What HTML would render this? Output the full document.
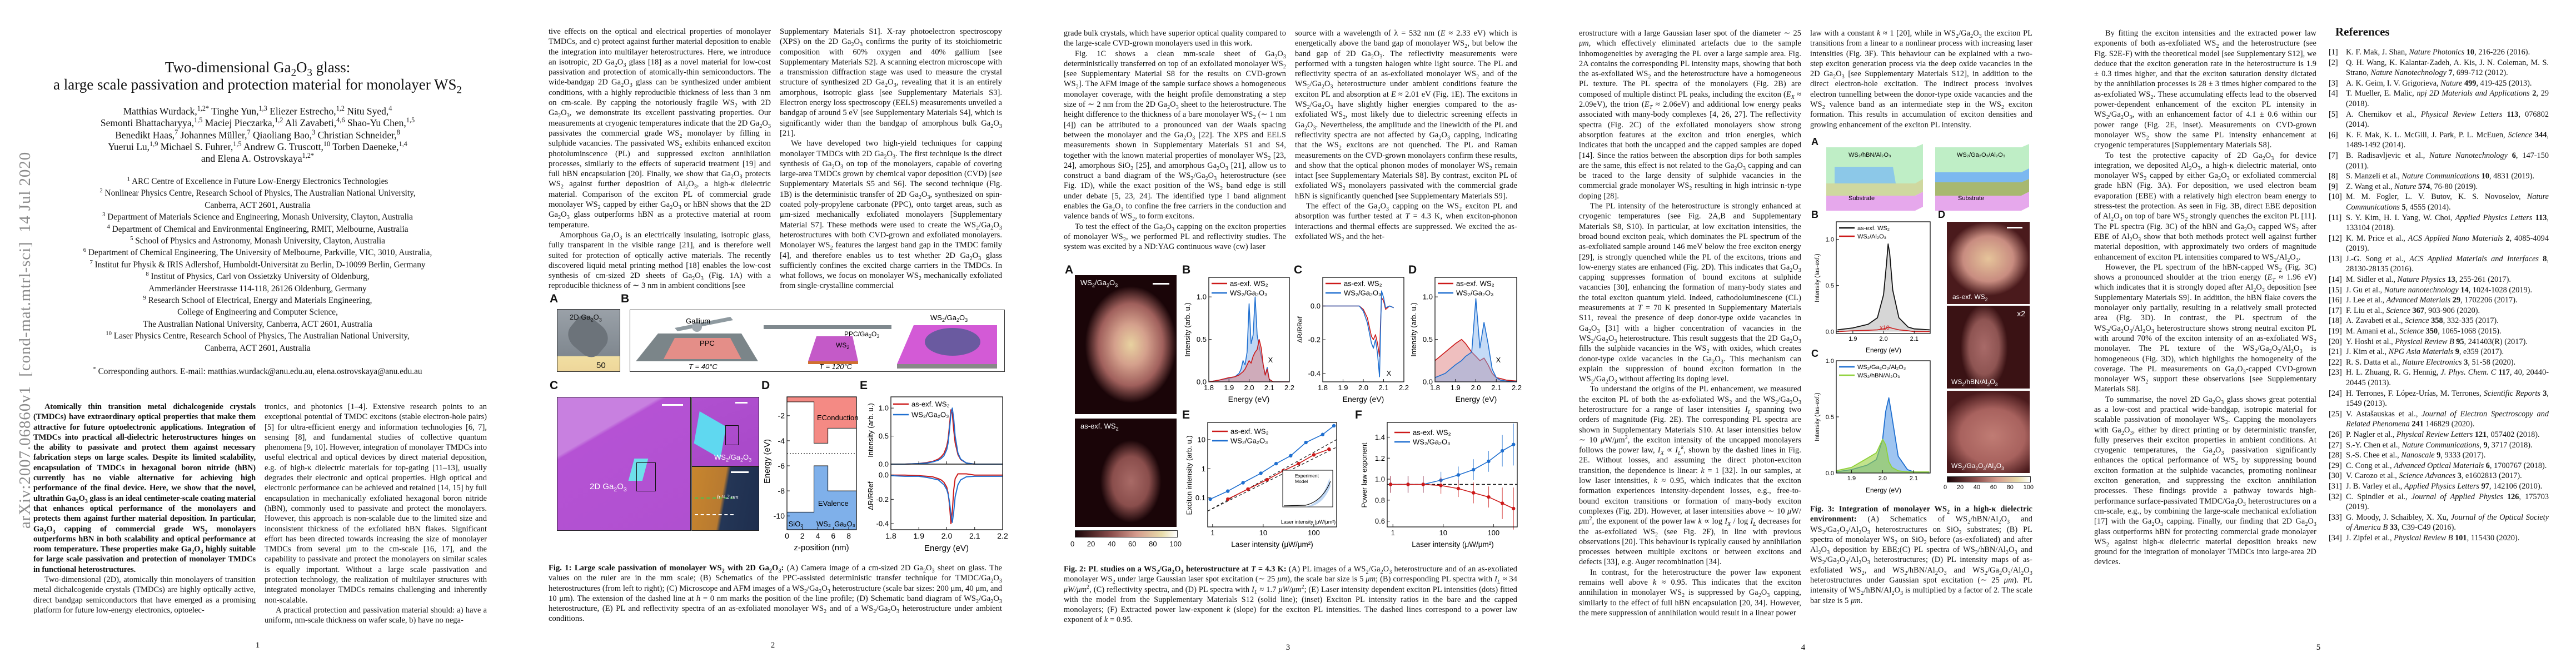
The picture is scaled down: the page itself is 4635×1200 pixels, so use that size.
<!DOCTYPE html>
<html><head><meta charset="utf-8">
<style>
html,body{margin:0;padding:0;background:#fff;}
body{width:4635px;height:1200px;position:relative;overflow:hidden;font-family:"Liberation Serif",serif;color:#111;}
.page{position:absolute;top:0;width:927px;height:1200px;overflow:hidden;background:#fff;}
.col{position:absolute;width:400px;font-size:14.6px;line-height:18.3px;text-align:justify;overflow:hidden;}
.cm{font-size:14.3px;letter-spacing:0.12px;}
.col p{margin:0;text-indent:20px;}
.col p.ni{text-indent:0;}
sub,sup{font-size:70%;line-height:0;}
.pnum{position:absolute;width:927px;text-align:center;font-size:15px;}
.center{position:absolute;left:0;width:927px;text-align:center;}
.lab{position:absolute;font-family:"Liberation Sans",sans-serif;font-weight:bold;font-size:21px;}
.cap{position:absolute;font-size:14.6px;line-height:18.3px;text-align:justify;}
.img{position:absolute;}
svg.ov{position:absolute;left:0;top:0;}
.refs{position:absolute;left:488px;top:85px;width:390px;font-size:14.3px;line-height:18.6px;}
.ref{position:relative;padding-left:25px;text-align:justify;}
.ref span.n{position:absolute;left:-6px;}
</style></head>
<body>

<!-- PAGE 1 -->
<div class="page" style="left:0">
  <div style="position:absolute;left:45px;top:612px;width:700px;margin-left:-350px;margin-top:-17px;transform:rotate(-90deg);text-align:center;font-size:29px;line-height:34px;color:#8a8a8a;letter-spacing:0.9px;white-space:nowrap">arXiv:2007.06860v1&nbsp; [cond-mat.mtrl-sci]&nbsp; 14 Jul 2020</div>
  <div class="center" style="top:106px;font-size:27px;line-height:31px">Two-dimensional Ga<sub>2</sub>O<sub>3</sub> glass:<br>a large scale passivation and protection material for monolayer WS<sub>2</sub></div>
  <div class="center" style="top:190px;font-size:17.5px;line-height:21.3px">
  Matthias Wurdack,<sup>1,2*</sup> Tinghe Yun,<sup>1,3</sup> Eliezer Estrecho,<sup>1,2</sup> Nitu Syed,<sup>4</sup><br>
  Semonti Bhattacharyya,<sup>1,5</sup> Maciej Pieczarka,<sup>1,2</sup> Ali Zavabeti,<sup>4,6</sup> Shao-Yu Chen,<sup>1,5</sup><br>
  Benedikt Haas,<sup>7</sup> Johannes Müller,<sup>7</sup> Qiaoliang Bao,<sup>3</sup> Christian Schneider,<sup>8</sup><br>
  Yuerui Lu,<sup>1,9</sup> Michael S. Fuhrer,<sup>1,5</sup> Andrew G. Truscott,<sup>10</sup> Torben Daeneke,<sup>1,4</sup><br>
  and Elena A. Ostrovskaya<sup>1,2*</sup></div>
  <div class="center" style="top:316px;font-size:15.3px;line-height:21.4px">
  <sup>1</sup> ARC Centre of Excellence in Future Low-Energy Electronics Technologies<br>
  <sup>2</sup> Nonlinear Physics Centre, Research School of Physics, The Australian National University,<br>
  Canberra, ACT 2601, Australia<br>
  <sup>3</sup> Department of Materials Science and Engineering, Monash University, Clayton, Australia<br>
  <sup>4</sup> Department of Chemical and Environmental Engineering, RMIT, Melbourne, Australia<br>
  <sup>5</sup> School of Physics and Astronomy, Monash University, Clayton, Australia<br>
  <sup>6</sup> Department of Chemical Engineering, The University of Melbourne, Parkville, VIC, 3010, Australia,<br>
  <sup>7</sup> Institut fur Physik &amp; IRIS Adlershof, Humboldt-Universität zu Berlin, D-10099 Berlin, Germany<br>
  <sup>8</sup> Institut of Physics, Carl von Ossietzky University of Oldenburg,<br>
  Ammerländer Heerstrasse 114-118, 26126 Oldenburg, Germany<br>
  <sup>9</sup> Research School of Electrical, Energy and Materials Engineering,<br>
  College of Engineering and Computer Science,<br>
  The Australian National University, Canberra, ACT 2601, Australia<br>
  <sup>10</sup> Laser Physics Centre, Research School of Physics, The Australian National University,<br>
  Canberra, ACT 2601, Australia</div>
  <div class="center" style="top:660px;font-size:15.3px"><sup>*</sup> Corresponding authors. E-mail: matthias.wurdack@anu.edu.au, elena.ostrovskaya@anu.edu.au</div>
  <div class="col" style="left:60px;top:723px;height:405px">
   <p style="font-weight:bold;letter-spacing:-0.15px">Atomically thin transition metal dichalcogenide crystals (TMDCs) have extraordinary optical properties that make them attractive for future optoelectronic applications. Integration of TMDCs into practical all-dielectric heterostructures hinges on the ability to passivate and protect them against necessary fabrication steps on large scales. Despite its limited scalability, encapsulation of TMDCs in hexagonal boron nitride (hBN) currently has no viable alternative for achieving high performance of the final device. Here, we show that the novel, ultrathin Ga<sub>2</sub>O<sub>3</sub> glass is an ideal centimeter-scale coating material that enhances optical performance of the monolayers and protects them against further material deposition. In particular, Ga<sub>2</sub>O<sub>3</sub> capping of commercial grade WS<sub>2</sub> monolayers outperforms hBN in both scalability and optical performance at room temperature. These properties make Ga<sub>2</sub>O<sub>3</sub> highly suitable for large scale passivation and protection of monolayer TMDCs in functional heterostructures.</p>
   <p>Two-dimensional (2D), atomically thin monolayers of transition metal dichalcogenide crystals (TMDCs) are highly optically active, direct bandgap semiconductors that have emerged as a promising platform for future low-energy electronics, optoelec-</p>
  </div>
  <div class="col" style="left:476px;top:723px;height:405px">
   <p class="ni">tronics, and photonics [1–4]. Extensive research points to an exceptional potential of TMDC excitons (stable electron-hole pairs) [5] for ultra-efficient energy and information technologies [6, 7], sensing [8], and fundamental studies of collective quantum phenomena [9, 10]. However, integration of monolayer TMDCs into useful electrical and optical devices by direct material deposition, e.g. of high-κ dielectric materials for top-gating [11–13], usually degrades their electronic and optical properties. High optical and electronic performance can be achieved and retained [14, 15] by full encapsulation in mechanically exfoliated hexagonal boron nitride (hBN), commonly used to passivate and protect the monolayers. However, this approach is non-scalable due to the limited size and inconsistent thickness of the exfoliated hBN flakes. Significant effort has been directed towards increasing the size of monolayer TMDCs from several μm to the cm-scale [16, 17], and the capability to passivate and protect the monolayers on similar scales is equally important. Without a large scale passivation and protection technology, the realization of multilayer structures with integrated monolayer TMDCs remains challenging and inherently non-scalable.</p>
   <p>A practical protection and passivation material should: a) have a uniform, nm-scale thickness on wafer scale, b) have no nega-</p>
  </div>
  <div class="pnum" style="top:1153px">1</div>
</div>

<!-- PAGE 2 -->
<div class="page" style="left:927px">
  <div class="col" style="left:60px;top:48px;height:476px">
   <p class="ni">tive effects on the optical and electrical properties of monolayer TMDCs, and c) protect against further material deposition to enable the integration into multilayer heterostructures. Here, we introduce an isotropic, 2D Ga<sub>2</sub>O<sub>3</sub> glass [18] as a novel material for low-cost passivation and protection of atomically-thin semiconductors. The wide-bandgap 2D Ga<sub>2</sub>O<sub>3</sub> glass can be synthesized under ambient conditions, with a highly reproducible thickness of less than 3 nm on cm-scale. By capping the notoriously fragile WS<sub>2</sub> with 2D Ga<sub>2</sub>O<sub>3</sub>, we demonstrate its excellent passivating properties. Our measurements at cryogenic temperatures indicate that the 2D Ga<sub>2</sub>O<sub>3</sub> passivates the commercial grade WS<sub>2</sub> monolayer by filling in sulphide vacancies. The passivated WS<sub>2</sub> exhibits enhanced exciton photoluminscence (PL) and suppressed exciton annihilation processes, similarly to the effects of superacid treatment [19] and full hBN encapsulation [20]. Finally, we show that Ga<sub>2</sub>O<sub>3</sub> protects WS<sub>2</sub> against further deposition of Al<sub>2</sub>O<sub>3</sub>, a high-κ dielectric material. Comparison of the exciton PL of commercial grade monolayer WS<sub>2</sub> capped by either Ga<sub>2</sub>O<sub>3</sub> or hBN shows that the 2D Ga<sub>2</sub>O<sub>3</sub> glass outperforms hBN as a protective material at room temperature.</p>
   <p>Amorphous Ga<sub>2</sub>O<sub>3</sub> is an electrically insulating, isotropic glass, fully transparent in the visible range [21], and is therefore well suited for protection of optically active materials. The recently discovered liquid metal printing method [18] enables the low-cost synthesis of cm-sized 2D sheets of Ga<sub>2</sub>O<sub>3</sub> (Fig. 1A) with a reproducible thickness of ∼ 3 nm in ambient conditions [see</p>
  </div>
  <div class="col" style="left:476px;top:48px;height:476px">
   <p class="ni">Supplementary Materials S1]. X-ray photoelectron spectroscopy (XPS) on the 2D Ga<sub>2</sub>O<sub>3</sub> confirms the purity of its stoichiometric composition with 60% oxygen and 40% gallium [see Supplementary Materials S2]. A scanning electron microscope with a transmission diffraction stage was used to measure the crystal structure of synthesized 2D Ga<sub>2</sub>O<sub>3</sub>, revealing that it is an entirely amorphous, isotropic glass [see Supplementary Materials S3]. Electron energy loss spectroscopy (EELS) measurements unveiled a bandgap of around 5 eV [see Supplementary Materials S4], which is significantly wider than the bandgap of amorphous bulk Ga<sub>2</sub>O<sub>3</sub> [21].</p>
   <p>We have developed two high-yield techniques for capping monolayer TMDCs with 2D Ga<sub>2</sub>O<sub>3</sub>. The first technique is the direct synthesis of Ga<sub>2</sub>O<sub>3</sub> on top of the monolayers, capable of covering large-area TMDCs grown by chemical vapor deposition (CVD) [see Supplementary Materials S5 and S6]. The second technique (Fig. 1B) is the deterministic transfer of 2D Ga<sub>2</sub>O<sub>3</sub>, synthesized on spin-coated poly-propylene carbonate (PPC), onto target areas, such as μm-sized mechanically exfoliated monolayers [Supplementary Material S7]. These methods were used to create the WS<sub>2</sub>/Ga<sub>2</sub>O<sub>3</sub> heterostructures with both CVD-grown and exfoliated monolayers. Monolayer WS<sub>2</sub> features the largest band gap in the TMDC family [4], and therefore enables us to test whether 2D Ga<sub>2</sub>O<sub>3</sub> glass sufficiently confines the excited charge carriers in the TMDCs. In what follows, we focus on monolayer WS<sub>2</sub> mechanically exfoliated from single-crystalline commercial</p>
  </div>
  <div class="lab" style="left:62px;top:526px">A</div>
  <div class="lab" style="left:190px;top:526px">B</div>
  <div class="img" style="left:75px;top:556px;width:112px;height:111px;background:linear-gradient(#9aa1a8,#7f878f 75%,#f1dfa2 76%,#eed69a);border:1px solid #333">
    <div style="position:absolute;left:20px;top:18px;width:70px;height:60px;background:#6c737a;border-radius:30% 40% 30% 40%;transform:rotate(40deg)"></div>
    <div style="position:absolute;left:22px;top:6px;font:13px 'Liberation Sans',sans-serif">2D Ga<sub>2</sub>O<sub>3</sub></div>
    <div style="position:absolute;left:70px;top:92px;font:15px 'Liberation Sans',sans-serif">50</div>
  </div>
  <div class="img" style="left:206px;top:557px;width:673px;height:110px;border:1.5px solid #333;background:#fff">
    <svg width="673" height="110">
      <polygon points="10,92 50,42 200,42 230,92" fill="#7b8589"/>
      <polygon points="60,88 80,50 180,50 200,88" fill="#e48e88"/>
      <polygon points="80,32 180,12 185,18 85,38" fill="#8f9aa0"/>
      <circle cx="120" cy="30" r="9" fill="#a0a8ae"/>
      <polygon points="240,27 470,27 470,34 240,34" fill="#7f898e"/>
      <polygon points="320,92 335,47 400,47 410,92" fill="#c45ac8"/>
      <polygon points="320,92 410,92 410,97 320,97" fill="#d07030"/>
      <polygon points="480,97 510,27 660,27 660,97" fill="#d35ad6"/>
      <ellipse cx="580" cy="57" rx="50" ry="25" fill="#6a5aa0"/>
      <polygon points="480,97 660,97 660,105 480,105" fill="#888"/>
      <text x="100" y="24" font-family="Liberation Sans" font-size="13">Gallium</text>
      <text x="125" y="64" font-family="Liberation Sans" font-size="13">PPC</text>
      <text x="105" y="106" font-family="Liberation Sans" font-size="13" font-style="italic">T = 40°C</text>
      <text x="385" y="47" font-family="Liberation Sans" font-size="12">PPC/Ga<tspan font-size="9" dy="3">2</tspan><tspan dy="-3">O</tspan><tspan font-size="9" dy="3">3</tspan></text>
      <text x="370" y="67" font-family="Liberation Sans" font-size="12">WS<tspan font-size="9" dy="3">2</tspan></text>
      <text x="340" y="106" font-family="Liberation Sans" font-size="13" font-style="italic">T = 120°C</text>
      <text x="540" y="18" font-family="Liberation Sans" font-size="13">WS<tspan font-size="9" dy="3">2</tspan><tspan dy="-3">/Ga</tspan><tspan font-size="9" dy="3">2</tspan><tspan dy="-3">O</tspan><tspan font-size="9" dy="3">3</tspan></text>
    </svg>
  </div>
  <div class="lab" style="left:62px;top:682px">C</div>
  <div class="lab" style="left:443px;top:682px">D</div>
  <div class="lab" style="left:620px;top:682px">E</div>
  <div class="img" style="left:75px;top:714px;width:239px;height:239px;border:1.5px solid #222;background:linear-gradient(150deg,#c880e0 0%,#c880e0 28%,#b552d4 30%,#b050d0 100%)">
    <div style="position:absolute;left:133px;top:110px;width:25px;height:40px;background:#6ee0ea;transform:skew(-15deg)"></div>
    <div style="position:absolute;left:142px;top:117px;width:33px;height:50px;border:1.5px solid #111"></div>
    <div style="position:absolute;left:188px;top:12px;width:38px;height:3px;background:#fff"></div>
    <div style="position:absolute;left:58px;top:152px;color:#fff;font:15px 'Liberation Sans',sans-serif">2D Ga<sub>2</sub>O<sub>3</sub></div>
  </div>
  <div class="img" style="left:317px;top:714px;width:120px;height:123px;border:1.5px solid #222;background:linear-gradient(160deg,#b050d0 0%,#a848c8 100%)">
    <div style="position:absolute;left:5px;top:40px;width:55px;height:55px;background:#5fd8f0;transform:rotate(30deg) skew(20deg)"></div>
    <div style="position:absolute;left:60px;top:50px;width:22px;height:34px;border:1.5px solid #111"></div>
    <div style="position:absolute;left:78px;top:8px;width:22px;height:3px;background:#fff"></div>
    <div style="position:absolute;left:40px;top:100px;color:#fff;font:13px 'Liberation Sans',sans-serif">WS<sub>2</sub>/Ga<sub>2</sub>O<sub>3</sub></div>
  </div>
  <div class="img" style="left:317px;top:839px;width:120px;height:114px;border:1.5px solid #222;background:linear-gradient(100deg,#c8862e 0%,#b87a30 45%,#243656 50%,#1e2e4e 100%)">
    <div style="position:absolute;left:5px;top:55px;width:70px;height:28px;border-top:2px dashed #4ec24e;border-bottom:2px dashed #fff"></div>
    <div style="position:absolute;left:70px;top:8px;width:32px;height:3px;background:#fff"></div>
    <div style="position:absolute;left:45px;top:48px;color:#fff;font:italic 11px 'Liberation Serif',serif">h ≈ 2 nm</div>
  </div>
  <svg class="ov" id="svg-p2" width="927" height="1200"></svg>
  <div class="cap" style="left:60px;top:1013px;width:816px"><b>Fig. 1: Large scale passivation of monolayer WS<sub>2</sub> with 2D Ga<sub>2</sub>O<sub>3</sub>:</b> (A) Camera image of a cm-sized 2D Ga<sub>2</sub>O<sub>3</sub> sheet on glass. The values on the ruler are in the mm scale; (B) Schematics of the PPC-assisted deterministic transfer technique for TMDC/Ga<sub>2</sub>O<sub>3</sub> heterostructures (from left to right); (C) Microscope and AFM images of a WS<sub>2</sub>/Ga<sub>2</sub>O<sub>3</sub> heterostructure (scale bar sizes: 200 μm, 40 μm, and 10 μm). The extension of the dashed line at <i>h</i> = 0 nm marks the position of the line profile; (D) Schematic band diagram of WS<sub>2</sub>/Ga<sub>2</sub>O<sub>3</sub> heterostructure, (E) PL and reflectivity spectra of an as-exfoliated monolayer WS<sub>2</sub> and of a WS<sub>2</sub>/Ga<sub>2</sub>O<sub>3</sub> heterostructure under ambient conditions.</div>
  <div class="pnum" style="top:1153px">2</div>
</div>

<!-- PAGE 3 -->
<div class="page" style="left:1854px">
  <div class="col cm" style="left:60px;top:51px;height:403px">
   <p class="ni">grade bulk crystals, which have superior optical quality compared to the large-scale CVD-grown monolayers used in this work.</p>
   <p>Fig. 1C shows a clean mm-scale sheet of Ga<sub>2</sub>O<sub>3</sub> deterministically transferred on top of an exfoliated monolayer WS<sub>2</sub> [see Supplementary Material S8 for the results on CVD-grown WS<sub>2</sub>]. The AFM image of the sample surface shows a homogeneous monolayer coverage, with the height profile demonstrating a step size of ∼ 2 nm from the 2D Ga<sub>2</sub>O<sub>3</sub> sheet to the heterostructure. The height difference to the thickness of a bare monolayer WS<sub>2</sub> (∼ 1 nm [4]) can be attributed to a pronounced van der Waals spacing between the monolayer and the Ga<sub>2</sub>O<sub>3</sub> [22]. The XPS and EELS measurements shown in Supplementary Materials S1 and S4, together with the known material properties of monolayer WS<sub>2</sub> [23, 24], amorphous SiO<sub>2</sub> [25], and amorphous Ga<sub>2</sub>O<sub>3</sub> [21], allow us to construct a band diagram of the WS<sub>2</sub>/Ga<sub>2</sub>O<sub>3</sub> heterostructure (see Fig. 1D), while the exact position of the WS<sub>2</sub> band edge is still under debate [5, 23, 24]. The identified type I band alignment enables the Ga<sub>2</sub>O<sub>3</sub> to confine the free carriers in the conduction and valence bands of WS<sub>2</sub>, to form excitons.</p>
   <p>To test the effect of the Ga<sub>2</sub>O<sub>3</sub> capping on the exciton properties of monolayer WS<sub>2</sub>, we performed PL and reflectivity studies. The system was excited by a ND:YAG continuous wave (cw) laser</p>
  </div>
  <div class="col cm" style="left:476px;top:51px;height:403px">
   <p class="ni">source with a wavelength of λ = 532 nm (<i>E</i> ≈ 2.33 eV) which is energetically above the band gap of monolayer WS<sub>2</sub>, but below the band gap of 2D Ga<sub>2</sub>O<sub>3</sub>. The reflectivity measurements were performed with a tungsten halogen white light source. The PL and reflectivity spectra of an as-exfoliated monolayer WS<sub>2</sub> and of the WS<sub>2</sub>/Ga<sub>2</sub>O<sub>3</sub> heterostructure under ambient conditions feature the exciton PL and absorption at <i>E</i> ≈ 2.01 eV (Fig. 1E). The excitons in WS<sub>2</sub>/Ga<sub>2</sub>O<sub>3</sub> have slightly higher energies compared to the as-exfoliated WS<sub>2</sub>, most likely due to dielectric screening effects in Ga<sub>2</sub>O<sub>3</sub>. Nevertheless, the amplitude and the linewidth of the PL and reflectivity spectra are not affected by Ga<sub>2</sub>O<sub>3</sub> capping, indicating that the WS<sub>2</sub> excitons are not quenched. The PL and Raman measurements on the CVD-grown monolayers confirm these results, and show that the optical phonon modes of monolayer WS<sub>2</sub> remain intact [see Supplementary Materials S8]. By contrast, exciton PL of exfoliated WS<sub>2</sub> monolayers passivated with the commercial grade hBN is significantly quenched [see Supplementary Materials S9].</p>
   <p>The effect of the Ga<sub>2</sub>O<sub>3</sub> capping on the WS<sub>2</sub> exciton PL and absorption was further tested at <i>T</i> = 4.3 K, when exciton-phonon interactions and thermal effects are suppressed. We excited the as-exfoliated WS<sub>2</sub> and the het-</p>
  </div>
  <div class="lab" style="left:62px;top:474px">A</div>
  <div class="lab" style="left:273px;top:474px">B</div>
  <div class="lab" style="left:474px;top:474px">C</div>
  <div class="lab" style="left:680px;top:474px">D</div>
  <div class="lab" style="left:273px;top:735px">E</div>
  <div class="lab" style="left:584px;top:735px">F</div>
  <div class="img" style="left:80px;top:495px;width:183px;height:250px;background:radial-gradient(ellipse 45% 42% at 55% 50%,#e8d2a0 0%,#d4a08c 35%,#a0605c 70%,#1a0508 100%);">
    <div style="position:absolute;left:10px;top:6px;color:#fff;font:13px 'Liberation Sans',sans-serif">WS<sub>2</sub>/Ga<sub>2</sub>O<sub>3</sub></div>
    <div style="position:absolute;left:140px;top:14px;width:30px;height:3px;background:#fff"></div>
  </div>
  <div class="img" style="left:80px;top:753px;width:183px;height:195px;background:radial-gradient(ellipse 30% 38% at 55% 58%,#a86a66 0%,#8a4e4c 60%,#1a0508 100%);">
    <div style="position:absolute;left:10px;top:6px;color:#fff;font:13px 'Liberation Sans',sans-serif">as-exf. WS<sub>2</sub></div>
  </div>
  <div class="img" style="left:80px;top:954px;width:183px;height:11px;border:1px solid #333;background:linear-gradient(90deg,#1a0508,#8a4e4c 35%,#d49a8c 60%,#e8dcaa 85%,#fff)"></div>
  <div style="position:absolute;left:72px;top:971px;width:200px;font:13px 'Liberation Sans',sans-serif;display:flex;justify-content:space-between"><span>0</span><span>20</span><span>40</span><span>60</span><span>80</span><span>100</span></div>
  <svg class="ov" id="svg-p3" width="927" height="1200"></svg>
  <div class="cap cm" style="left:60px;top:1015px;width:816px;font-size:14.3px"><b>Fig. 2: PL studies on a WS<sub>2</sub>/Ga<sub>2</sub>O<sub>3</sub> heterostructure at <i>T</i> = 4.3 K:</b> (A) PL images of a WS<sub>2</sub>/Ga<sub>2</sub>O<sub>3</sub> heterostructure and of an as-exoliated monolayer WS<sub>2</sub> under large Gaussian laser spot excitation (∼ 25 <i>μm</i>), the scale bar size is 5 <i>μm</i>; (B) corresponding PL spectra with <i>I<sub>L</sub></i> ≈ 34 <i>μW/μm</i><sup>2</sup>, (C) reflectivity spectra, and (D) PL spectra with <i>I<sub>L</sub></i> ≈ 1.7 <i>μW/μm</i><sup>2</sup>; (E) Laser intensity dependent exciton PL intensities (dots) fitted with the model from the Supplementary Materials S12 (solid line); (inset) Exciton PL intensity ratios in the bare and the capped monolayers; (F) Extracted power law-exponent <i>k</i> (slope) for the exciton PL intensities. The dashed lines correspond to a power law exponent of <i>k</i> = 0.95.</div>
  <div class="pnum" style="top:1157px">3</div>
</div>

<!-- PAGE 4 -->
<div class="page" style="left:2781px">
  <div class="col cm" style="left:60px;top:51px;height:1062px">
   <p class="ni">erostructure with a large Gaussian laser spot of the diameter ∼ 25 <i>μm</i>, which effectively eliminated artefacts due to the sample inhomogeneities by averaging the PL over a large sample area. Fig. 2A contains the corresponding PL intensity maps, showing that both the as-exfoliated WS<sub>2</sub> and the heterostructure have a homogeneous PL texture. The PL spectra of the monolayers (Fig. 2B) are composed of multiple distinct PL peaks, including the exciton (<i>E<sub>X</sub></i> ≈ 2.09eV), the trion (<i>E<sub>T</sub></i> ≈ 2.06eV) and additional low energy peaks associated with many-body complexes [4, 26, 27]. The reflectivity spectra (Fig. 2C) of the exfoliated monolayers show strong absorption features at the exciton and trion energies, which indicates that both the uncapped and the capped samples are doped [14]. Since the ratios between the absorption dips for both samples are the same, this effect is not related to the Ga<sub>2</sub>O<sub>3</sub> capping and can be traced to the large density of sulphide vacancies in the commercial grade monolayer WS<sub>2</sub> resulting in high intrinsic n-type doping [28].</p>
   <p>The PL intensity of the heterostructure is strongly enhanced at cryogenic temperatures (see Fig. 2A,B and Supplementary Materials S8, S10). In particular, at low excitation intensities, the broad bound exciton peak, which dominates the PL spectrum of the as-exfoliated sample around 146 meV below the free exciton energy [29], is strongly quenched while the PL of the excitons, trions and low-energy states are enhanced (Fig. 2D). This indicates that Ga<sub>2</sub>O<sub>3</sub> capping suppresses formation of bound excitons at sulphide vacancies [30], enhancing the formation of many-body states and the total exciton quantum yield. Indeed, cathodoluminescene (CL) measurements at <i>T</i> = 70 K presented in Supplementary Materials S11, reveal the presence of deep donor-type oxide vacancies in Ga<sub>2</sub>O<sub>3</sub> [31] with a higher concentration of vacancies in the WS<sub>2</sub>/Ga<sub>2</sub>O<sub>3</sub> heterostructure. This result suggests that the 2D Ga<sub>2</sub>O<sub>3</sub> fills the sulphide vacancies in the WS<sub>2</sub> with oxides, which creates donor-type oxide vacancies in the Ga<sub>2</sub>O<sub>3</sub>. This mechanism can explain the suppression of bound exciton formation in the WS<sub>2</sub>/Ga<sub>2</sub>O<sub>3</sub> without affecting its doping level.</p>
   <p>To understand the origins of the PL enhancement, we measured the exciton PL of both the as-exfoliated WS<sub>2</sub> and the WS<sub>2</sub>/Ga<sub>2</sub>O<sub>3</sub> heterostructure for a range of laser intensities <i>I<sub>L</sub></i> spanning two orders of magnitude (Fig. 2E). The corresponding PL spectra are shown in Supplementary Materials S10. At laser intensities below ∼ 10 <i>μ</i>W/<i>μ</i>m<sup>2</sup>, the exciton intensity of the uncapped monolayers follows the power law, <i>I<sub>X</sub></i> ∝ <i>I<sub>L</sub><sup>k</sup></i>, shown by the dashed lines in Fig. 2E. Without losses, and assuming the direct photon-exciton transition, the dependence is linear: <i>k</i> = 1 [32]. In our samples, at low laser intensities, <i>k</i> ≈ 0.95, which indicates that the exciton formation experiences intensity-dependent losses, e.g., free-to-bound exciton transitions or formation of many-body exciton complexes (Fig. 2D). However, at laser intensities above ∼ 10 <i>μ</i>W/<i>μ</i>m<sup>2</sup>, the exponent of the power law <i>k</i> ∝ log <i>I<sub>X</sub></i> / log <i>I<sub>L</sub></i> decreases for the as-exfoliated WS<sub>2</sub> (see Fig. 2F), in line with previous observations [20]. This behaviour is typically caused by annihilation processes between multiple excitons or between excitons and defects [33], e.g. Auger recombination [34].</p>
   <p>In contrast, for the heterostructure the power law exponent remains well above <i>k</i> ≈ 0.95. This indicates that the exciton annihilation in monolayer WS<sub>2</sub> is suppressed by Ga<sub>2</sub>O<sub>3</sub> capping, similarly to the effect of full hBN encapsulation [20, 34]. However, the mere suppression of annihilation would result in a linear power</p>
  </div>
  <div class="col cm" style="left:476px;top:51px;height:185px">
   <p class="ni">law with a constant <i>k</i> ≈ 1 [20], while in WS<sub>2</sub>/Ga<sub>2</sub>O<sub>3</sub> the exciton PL transitions from a linear to a nonlinear process with increasing laser intensities (Fig. 3F). This behaviour can be explained with a two-step exciton generation process via the deep oxide vacancies in the 2D Ga<sub>2</sub>O<sub>3</sub> [see Supplementary Materials S12], in addition to the direct electron-hole excitation. The indirect process involves electron tunnelling between the donor-type oxide vacancies and the WS<sub>2</sub> valence band as an intermediate step in the WS<sub>2</sub> exciton formation. This results in accumulation of exciton densities and growing enhancement of the exciton PL intensity.</p>
  </div>
  <div class="lab" style="left:478px;top:245px;font-size:18px">A</div>
  <div class="lab" style="left:478px;top:376px;font-size:18px">B</div>
  <div class="lab" style="left:478px;top:626px;font-size:18px">C</div>
  <div class="lab" style="left:706px;top:376px;font-size:18px">D</div>
  <svg class="ov" width="927" height="1200" style="pointer-events:none">
    <g>
      <polygon points="505,265 665,265 679,259 679,345 665,352 505,352" fill="#b8ecc0" opacity="0.9"/>
      <polygon points="520,300 625,300 630,330 520,330" fill="#8cc8e8"/>
      <polygon points="505,330 665,330 679,322 679,345 665,352 505,352" fill="#cfd8a0"/>
      <polygon points="505,352 665,352 679,345 679,372 665,379 505,379" fill="#e6a8ec"/>
      <text x="545" y="282" font-family="Liberation Sans" font-size="11">WS₂/hBN/Al₂O₃</text>
      <text x="545" y="360" font-family="Liberation Sans" font-size="11">Substrate</text>
    </g>
    <g>
      <polygon points="701,265 856,265 870,259 870,345 856,352 701,352" fill="#b8ecc0" opacity="0.9"/>
      <polygon points="701,310 856,310 870,303 870,322 856,328 701,328" fill="#7cb8f0"/>
      <polygon points="701,328 856,328 870,322 870,345 856,352 701,352" fill="#a8b870"/>
      <polygon points="701,352 856,352 870,345 870,372 856,379 701,379" fill="#e6a8ec"/>
      <text x="740" y="282" font-family="Liberation Sans" font-size="11">WS₂/Ga₂O₃/Al₂O₃</text>
      <text x="742" y="360" font-family="Liberation Sans" font-size="11">Substrate</text>
    </g>
  </svg>
  <div class="img" style="left:722px;top:399px;width:149px;height:148px;background:radial-gradient(ellipse 55% 50% at 50% 45%,#e6c49a 0%,#c88c80 55%,#4a1a1c 90%)">
    <div style="position:absolute;left:108px;top:9px;width:28px;height:3px;background:#fff"></div>
    <div style="position:absolute;left:10px;top:128px;color:#fff;font:12px 'Liberation Sans',sans-serif">as-exf. WS<sub>2</sub></div>
  </div>
  <div class="img" style="left:722px;top:550px;width:149px;height:149px;background:radial-gradient(ellipse 30% 55% at 45% 50%,#a86a68 0%,#8e5452 60%,#3a1214 95%)">
    <div style="position:absolute;right:8px;top:6px;color:#fff;font:14px 'Liberation Sans',sans-serif">x2</div>
    <div style="position:absolute;left:8px;top:130px;color:#fff;font:12px 'Liberation Sans',sans-serif">WS<sub>2</sub>/hBN/Al<sub>2</sub>O<sub>3</sub></div>
  </div>
  <div class="img" style="left:722px;top:703px;width:149px;height:148px;background:radial-gradient(ellipse 65% 55% at 55% 55%,#c07c74 0%,#a8625e 60%,#4a1a1c 100%)">
    <div style="position:absolute;left:8px;top:128px;color:#fff;font:12px 'Liberation Sans',sans-serif">WS<sub>2</sub>/Ga<sub>2</sub>O<sub>3</sub>/Al<sub>2</sub>O<sub>3</sub></div>
  </div>
  <div class="img" style="left:722px;top:857px;width:149px;height:9px;border:1px solid #333;background:linear-gradient(90deg,#1a0508,#8a4e4c 35%,#d49a8c 60%,#e8dcaa 85%,#fff)"></div>
  <div style="position:absolute;left:716px;top:871px;width:162px;font:11px 'Liberation Sans',sans-serif;display:flex;justify-content:space-between"><span>0</span><span>20</span><span>40</span><span>60</span><span>80</span><span>100</span></div>
  <svg class="ov" id="svg-p4" width="927" height="1200"></svg>
  <div class="cap cm" style="left:476px;top:907px;width:400px;font-size:14.3px;line-height:18.3px"><b>Fig. 3: Integration of monolayer WS<sub>2</sub> in a high-κ dielectric environment:</b> (A) Schematics of WS<sub>2</sub>/hBN/Al<sub>2</sub>O<sub>3</sub> and WS<sub>2</sub>/Ga<sub>2</sub>O<sub>3</sub>/Al<sub>2</sub>O<sub>3</sub> heterostructures on SiO<sub>2</sub> substrates; (B) PL spectra of monolayer WS<sub>2</sub> on SiO<sub>2</sub> before (as-exfoliated) and after Al<sub>2</sub>O<sub>3</sub> deposition by EBE;(C) PL spectra of WS<sub>2</sub>/hBN/Al<sub>2</sub>O<sub>3</sub> and WS<sub>2</sub>/Ga<sub>2</sub>O<sub>3</sub>/Al<sub>2</sub>O<sub>3</sub> heterostructures; (D) PL intensity maps of as-exfoliated WS<sub>2</sub>, and WS<sub>2</sub>/hBN/Al<sub>2</sub>O<sub>3</sub> and WS<sub>2</sub>/Ga<sub>2</sub>O<sub>3</sub>/Al<sub>2</sub>O<sub>3</sub> heterostructures under Gaussian spot excitation (∼ 25 <i>μm</i>). PL intensity of WS<sub>2</sub>/hBN/Al<sub>2</sub>O<sub>3</sub> is multiplied by a factor of 2. The scale bar size is 5 <i>μm</i>.</div>
  <div class="pnum" style="top:1157px">4</div>
</div>

<!-- PAGE 5 -->
<div class="page" style="left:3708px">
  <div class="col cm" style="left:60px;top:51px;height:990px">
   <p>By fitting the exciton intensities and the extracted power law exponents of both as-exfoliated WS<sub>2</sub> and the heterostructure (see Fig. S2E-F) with the theoretical model [see Supplementary S12], we deduce that the exciton generation rate in the heterostructure is 1.9 ± 0.3 times higher, and that the exciton saturation density dictated by the annihilation processes is 28 ± 3 times higher compared to the as-exfoliated WS<sub>2</sub>. These accumulating effects lead to the observed power-dependent enhancement of the exciton PL intensity in WS<sub>2</sub>/Ga<sub>2</sub>O<sub>3</sub>, with an enhancement factor of 4.1 ± 0.6 within our power range (Fig. 2E, inset). Measurements on CVD-grown monolayer WS<sub>2</sub> show the same PL intensity enhancement at cryogenic temperatures [Supplementary Materials S8].</p>
   <p>To test the protective capacity of 2D Ga<sub>2</sub>O<sub>3</sub> for device integration, we deposited Al<sub>2</sub>O<sub>3</sub>, a high-κ dielectric material, onto monolayer WS<sub>2</sub> capped by either Ga<sub>2</sub>O<sub>3</sub> or exfoliated commercial grade hBN (Fig. 3A). For deposition, we used electron beam evaporation (EBE) with a relatively high electron beam energy to stress-test the protection. As seen in Fig. 3B, direct EBE deposition of Al<sub>2</sub>O<sub>3</sub> on top of bare WS<sub>2</sub> strongly quenches the exciton PL [11]. The PL spectra (Fig. 3C) of the hBN and Ga<sub>2</sub>O<sub>3</sub> capped WS<sub>2</sub> after EBE of Al<sub>2</sub>O<sub>3</sub> show that both methods protect well against further material deposition, with approximately two orders of magnitude enhancement of exciton PL intensities compared to WS<sub>2</sub>/Al<sub>2</sub>O<sub>3</sub>.</p>
   <p>However, the PL spectrum of the hBN-capped WS<sub>2</sub> (Fig. 3C) shows a pronounced shoulder at the trion energy (<i>E<sub>T</sub></i> ≈ 1.96 eV) which indicates that it is strongly doped after Al<sub>2</sub>O<sub>3</sub> deposition [see Supplementary Materials S9]. In addition, the hBN flake covers the monolayer only partially, resulting in a relatively small protected area (Fig. 3D). In contrast, the PL spectrum of the WS<sub>2</sub>/Ga<sub>2</sub>O<sub>3</sub>/Al<sub>2</sub>O<sub>3</sub> heterostructure shows strong neutral exciton PL with around 70% of the exciton intensity of an as-exfoliated WS<sub>2</sub> monolayer. The PL texture of the WS<sub>2</sub>/Ga<sub>2</sub>O<sub>3</sub>/Al<sub>2</sub>O<sub>3</sub> is homogeneous (Fig. 3D), which highlights the homogeneity of the coverage. The PL measurements on Ga<sub>2</sub>O<sub>3</sub>-capped CVD-grown monolayer WS<sub>2</sub> support these observations [see Supplementary Materials S8].</p>
   <p>To summarise, the novel 2D Ga<sub>2</sub>O<sub>3</sub> glass shows great potential as a low-cost and practical wide-bandgap, isotropic material for scalable passivation of monolayer WS<sub>2</sub>. Capping the monolayers with Ga<sub>2</sub>O<sub>3</sub>, either by direct printing or by deterministic transfer, fully preserves their exciton properties in ambient conditions. At cryogenic temperatures, the Ga<sub>2</sub>O<sub>3</sub> passivation significantly enhances the optical performance of WS<sub>2</sub> by suppressing bound exciton formation at the sulphide vacancies, promoting nonlinear exciton generation, and suppressing the exciton annihilation processes. These findings provide a pathway towards high-performance surface-passivated TMDC/Ga<sub>2</sub>O<sub>3</sub> heterostructures on a cm-scale, e.g., by combining the large-scale mechanical exfoliation [17] with the Ga<sub>2</sub>O<sub>3</sub> capping. Finally, our finding that 2D Ga<sub>2</sub>O<sub>3</sub> glass outperforms hBN for protecting commercial grade monolayer WS<sub>2</sub> against high-κ dielectric material deposition breaks new ground for the integration of monolayer TMDCs into large-area 2D devices.</p>
  </div>
  <div style="position:absolute;left:494px;top:45px;font-size:21px;font-weight:bold">References</div>
  <div class="refs">
   <div class="ref"><span class="n">[1]</span>K. F. Mak, J. Shan, <i>Nature Photonics</i> <b>10</b>, 216-226 (2016).</div>
   <div class="ref"><span class="n">[2]</span>Q. H. Wang, K. Kalantar-Zadeh, A. Kis, J. N. Coleman, M. S. Strano, <i>Nature Nanotechnology</i> <b>7</b>, 699-712 (2012).</div>
   <div class="ref"><span class="n">[3]</span>A. K. Geim, I. V. Grigorieva, <i>Nature</i> <b>499</b>, 419-425 (2013).</div>
   <div class="ref"><span class="n">[4]</span>T. Mueller, E. Malic, <i>npj 2D Materials and Applications</i> <b>2</b>, 29 (2018).</div>
   <div class="ref"><span class="n">[5]</span>A. Chernikov et al., <i>Physical Review Letters</i> <b>113</b>, 076802 (2014).</div>
   <div class="ref"><span class="n">[6]</span>K. F. Mak, K. L. McGill, J. Park, P. L. McEuen, <i>Science</i> <b>344</b>, 1489-1492 (2014).</div>
   <div class="ref"><span class="n">[7]</span>B. Radisavljevic et al., <i>Nature Nanotechnology</i> <b>6</b>, 147-150 (2011).</div>
   <div class="ref"><span class="n">[8]</span>S. Manzeli et al., <i>Nature Communications</i> <b>10</b>, 4831 (2019).</div>
   <div class="ref"><span class="n">[9]</span>Z. Wang et al., <i>Nature</i> <b>574</b>, 76-80 (2019).</div>
   <div class="ref"><span class="n">[10]</span>M. M. Fogler, L. V. Butov, K. S. Novoselov, <i>Nature Communications</i> <b>5</b>, 4555 (2014).</div>
   <div class="ref"><span class="n">[11]</span>S. Y. Kim, H. I. Yang, W. Choi, <i>Applied Physics Letters</i> <b>113</b>, 133104 (2018).</div>
   <div class="ref"><span class="n">[12]</span>K. M. Price et al., <i>ACS Applied Nano Materials</i> <b>2</b>, 4085-4094 (2019).</div>
   <div class="ref"><span class="n">[13]</span>J.-G. Song et al., <i>ACS Applied Materials and Interfaces</i> <b>8</b>, 28130-28135 (2016).</div>
   <div class="ref"><span class="n">[14]</span>M. Sidler et al., <i>Nature Physics</i> <b>13</b>, 255-261 (2017).</div>
   <div class="ref"><span class="n">[15]</span>J. Gu et al., <i>Nature nanotechnology</i> <b>14</b>, 1024-1028 (2019).</div>
   <div class="ref"><span class="n">[16]</span>J. Lee et al., <i>Advanced Materials</i> <b>29</b>, 1702206 (2017).</div>
   <div class="ref"><span class="n">[17]</span>F. Liu et al., <i>Science</i> <b>367</b>, 903-906 (2020).</div>
   <div class="ref"><span class="n">[18]</span>A. Zavabeti et al., <i>Science</i> <b>358</b>, 332-335 (2017).</div>
   <div class="ref"><span class="n">[19]</span>M. Amani et al., <i>Science</i> <b>350</b>, 1065-1068 (2015).</div>
   <div class="ref"><span class="n">[20]</span>Y. Hoshi et al., <i>Physical Review B</i> <b>95</b>, 241403(R) (2017).</div>
   <div class="ref"><span class="n">[21]</span>J. Kim et al., <i>NPG Asia Materials</i> <b>9</b>, e359 (2017).</div>
   <div class="ref"><span class="n">[22]</span>R. S. Datta et al., <i>Nature Electronics</i> <b>3</b>, 51-58 (2020).</div>
   <div class="ref"><span class="n">[23]</span>H. L. Zhuang, R. G. Hennig, <i>J. Phys. Chem. C</i> <b>117</b>, 40, 20440-20445 (2013).</div>
   <div class="ref"><span class="n">[24]</span>H. Terrones, F. López-Urías, M. Terrones, <i>Scientific Reports</i> <b>3</b>, 1549 (2013).</div>
   <div class="ref"><span class="n">[25]</span>V. Astašauskas et al., <i>Journal of Electron Spectroscopy and Related Phenomena</i> <b>241</b> 146829 (2020).</div>
   <div class="ref"><span class="n">[26]</span>P. Nagler et al., <i>Physical Review Letters</i> <b>121</b>, 057402 (2018).</div>
   <div class="ref"><span class="n">[27]</span>S.-Y. Chen et al., <i>Nature Communications</i>, <b>9</b>, 3717 (2018).</div>
   <div class="ref"><span class="n">[28]</span>S.-S. Chee et al., <i>Nanoscale</i> <b>9</b>, 9333 (2017).</div>
   <div class="ref"><span class="n">[29]</span>C. Cong et al., <i>Advanced Optical Materials</i> <b>6</b>, 1700767 (2018).</div>
   <div class="ref"><span class="n">[30]</span>V. Carozo et al., <i>Science Advances</i> <b>3</b>, e1602813 (2017).</div>
   <div class="ref"><span class="n">[31]</span>J. B. Varley et al., <i>Applied Physics Letters</i> <b>97</b>, 142106 (2010).</div>
   <div class="ref"><span class="n">[32]</span>C. Spindler et al., <i>Journal of Applied Physics</i> <b>126</b>, 175703 (2019).</div>
   <div class="ref"><span class="n">[33]</span>G. Moody, J. Schaibley, X. Xu, <i>Journal of the Optical Society of America B</i> <b>33</b>, C39-C49 (2016).</div>
   <div class="ref"><span class="n">[34]</span>J. Zipfel et al., <i>Physical Review B</i> <b>101</b>, 115430 (2020).</div>
  </div>
  <div class="pnum" style="top:1157px">5</div>
</div>

<script>
// ---------- chart data ----------
// Fig 1E PL (ambient)
const f1eEnergy = [1.80,1.85,1.90,1.93,1.95,1.97,1.98,1.99,2.00,2.005,2.01,2.015,2.02,2.025,2.03,2.04,2.05,2.07,2.10,2.20];
const f1ePlBare = [0,0,0.01,0.03,0.05,0.09,0.13,0.19,0.32,0.45,0.70,0.97,0.90,0.60,0.38,0.17,0.08,0.02,0,0];
const f1ePlCapped = [0,0,0.01,0.02,0.04,0.07,0.10,0.15,0.26,0.38,0.62,0.90,1.00,0.80,0.50,0.20,0.09,0.02,0,0];
const f1eRefBare = [0,0,-0.005,-0.01,-0.015,-0.03,-0.04,-0.06,-0.10,-0.15,-0.25,-0.40,-0.30,-0.12,-0.03,0.01,0.01,0.01,0,0];
const f1eRefCapped = [-0.005,-0.01,-0.01,-0.02,-0.03,-0.04,-0.06,-0.08,-0.12,-0.16,-0.22,-0.32,-0.39,-0.30,-0.18,-0.08,-0.04,-0.015,-0.01,-0.01];
// Fig 1D band diagram
const f1dZ = [0,3.5,3.5,5.3,5.3,9];
const f1dCB = [-0.9,-0.9,-4.2,-4.2,-3.0,-3.0];
const f1dVB = [-9.7,-9.7,-6.0,-6.0,-8.0,-8.0];
const f1dFermi = -5.0;
// Fig 2B
const f2bEnergy = [1.80,1.85,1.90,1.93,1.95,1.96,1.97,1.98,1.99,2.00,2.01,2.02,2.03,2.04,2.05,2.06,2.07,2.08,2.09,2.10,2.12,2.20];
const f2bCapped = [0,0.02,0.04,0.06,0.10,0.15,0.25,0.20,0.35,0.92,0.45,0.55,1.00,0.55,0.42,0.30,0.20,0.08,0.17,0.03,0,0];
const f2bBare = [0,0.02,0.05,0.06,0.08,0.10,0.12,0.15,0.20,0.25,0.22,0.30,0.35,0.38,0.50,0.40,0.20,0.08,0.15,0.03,0,0];
// Fig 2C
const f2cEnergy = [1.80,1.85,1.90,1.95,1.98,2.00,2.02,2.04,2.05,2.06,2.07,2.08,2.085,2.09,2.10,2.11,2.13,2.15];
const f2cBare = [0,0,0,0,0,-0.02,-0.07,-0.18,-0.20,-0.17,-0.22,-0.30,-0.10,0.05,0.03,-0.02,0,-0.01];
const f2cCapped = [0,0,0,0,0,-0.03,-0.10,-0.22,-0.25,-0.20,-0.28,-0.42,-0.15,0.09,0.05,-0.01,0,-0.01];
// Fig 2D
const f2dEnergy = [1.80,1.85,1.90,1.93,1.95,1.98,2.00,2.02,2.04,2.06,2.08,2.10,2.12,2.15,2.20];
const f2dBare = [0.25,0.35,0.45,0.50,0.45,0.35,0.30,0.25,0.28,0.20,0.10,0.05,0.04,0.02,0.01];
const f2dCapped = [0.05,0.10,0.20,0.25,0.30,0.35,0.98,0.40,0.70,0.45,0.15,0.05,0.02,0.01,0];
// Fig 2E (log-log)
const f2eLaserCapped = [0.9,2,4,9,18,35,70,150,250];
const f2eCapped = [0.09,0.17,0.33,0.7,1.5,2.8,8,15,30];
const f2eLaserBare = [2,5,12,25,50,100,200];
const f2eBare = [0.09,0.2,0.42,0.85,1.5,3.0,4.7];
const f2eDashX = [0.8,283];
const f2eDashCapped = [0.035,10];
const f2eDashBare = [0.035,5.5];
// Fig 2F
const f2fLaser = [0.9,2,4,9,20,40,80,150,250];
const f2fCapped = [0.95,0.95,0.95,0.99,1.04,1.09,1.17,1.27,1.33];
const f2fBare = [0.95,0.95,0.95,0.94,0.91,0.87,0.83,0.77,0.72];
const f2fErr = [0.08,0.08,0.08,0.08,0.08,0.1,0.1,0.15,0.2];
const f2fRef = 0.95;
// Fig 3B
const f3bEnergy = [1.85,1.90,1.95,1.98,2.00,2.01,2.015,2.02,2.03,2.05,2.08,2.10,2.15];
const f3bBare = [0.02,0.04,0.08,0.15,0.40,0.75,0.95,0.85,0.45,0.15,0.05,0.03,0.02];
const f3bAl = [0.0,0.01,0.015,0.02,0.03,0.04,0.05,0.045,0.035,0.02,0.01,0.0,0.0];
// Fig 3C
const f3cEnergy = [1.85,1.90,1.95,1.98,2.00,2.01,2.02,2.03,2.05,2.08,2.10,2.15];
const f3cGa = [0.01,0.03,0.07,0.12,0.30,0.55,0.67,0.50,0.15,0.03,0.01,0.0];
const f3cHbn = [0.02,0.05,0.13,0.18,0.30,0.25,0.10,0.05,0.02,0.01,0.01,0.01];
// tick labels
const ticksE18_22 = [1.8,1.9,2.0,2.1,2.2];
const ticksE19_21 = [1.9,2.0,2.1];
const ticksInt = [0,0.5,1.0];
const ticksRefl = [0,-0.2,-0.4];
const ticksLogX = [1,10,100];
const ticksLogY = [0.1,1,10];
const ticksExp = [0.6,0.8,1.0,1.2,1.4];
const ticksZ = [0,2,4,6,8];
const ticksBand = [-2,-4,-6,-8,-10];

// ---------- helpers ----------
const NS = 'http://www.w3.org/2000/svg';
const RED = '#cc1a1a', BLUE = '#1f6fd0', GREEN = '#8fd13a';
function mk(parent, tag) { const e = document.createElementNS(NS, tag); parent.appendChild(e); return e; }
function axis(svg, L, T, W, H, xd, yd, xlog, ylog) {
  const fx = xlog ? Math.log10 : (v => v), fy = ylog ? Math.log10 : (v => v);
  const sx = v => L + (fx(v) - fx(xd[0])) / (fx(xd[1]) - fx(xd[0])) * W;
  const sy = v => T + H - (fy(v) - fy(yd[0])) / (fy(yd[1]) - fy(yd[0])) * H;
  return {sx, sy, L, T, W, H, svg};
}
function frame(a, name) {
  const r = mk(a.svg, 'rect');
  r.setAttribute('x', a.L); r.setAttribute('y', a.T); r.setAttribute('width', a.W); r.setAttribute('height', a.H);
  r.setAttribute('fill', 'none'); r.setAttribute('stroke', '#111'); r.setAttribute('stroke-width', '1.3');
  
  
}
function text(svg, x, y, s, size, anchor, name, rot) {
  const t = mk(svg, 'text');
  t.setAttribute('x', x); t.setAttribute('y', y); t.setAttribute('font-size', size);
  t.setAttribute('font-family', 'Liberation Sans, sans-serif'); t.setAttribute('text-anchor', anchor || 'middle');
  if (rot) t.setAttribute('transform', 'rotate(-90 ' + x + ' ' + y + ')');
  t.textContent = s;
  
  
  return t;
}
function xticks(a, vals, fmt, size, name, showLabels) {
  vals.forEach(v => {
    const x = a.sx(v);
    const l = mk(a.svg, 'line');
    l.setAttribute('x1', x); l.setAttribute('x2', x); l.setAttribute('y1', a.T + a.H); l.setAttribute('y2', a.T + a.H - 5);
    l.setAttribute('stroke', '#111');
    
    
    if (showLabels !== false) text(a.svg, x, a.T + a.H + size + 2, fmt(v), size, 'middle', name + '-label');
  });
}
function yticks(a, vals, fmt, size, name) {
  vals.forEach(v => {
    const y = a.sy(v);
    const l = mk(a.svg, 'line');
    l.setAttribute('x1', a.L); l.setAttribute('x2', a.L + 5); l.setAttribute('y1', y); l.setAttribute('y2', y);
    l.setAttribute('stroke', '#111');
    
    
    text(a.svg, a.L - 4, y + size * 0.35, fmt(v), size, 'end', name + '-label');
  });
}
function series(a, xs, ys, color, name, fill, width, dash) {
  let d = '';
  xs.forEach((x, i) => { d += (i ? 'L' : 'M') + a.sx(x).toFixed(1) + ' ' + a.sy(ys[i]).toFixed(1); });
  if (fill) {
    const p = mk(a.svg, 'path');
    const base = a.sy(fill.base);
    p.setAttribute('d', d + 'L' + a.sx(xs[xs.length - 1]).toFixed(1) + ' ' + base + 'L' + a.sx(xs[0]).toFixed(1) + ' ' + base + 'Z');
    p.setAttribute('fill', fill.color); p.setAttribute('fill-opacity', fill.op);
    
    
  }
  const p = mk(a.svg, 'path');
  p.setAttribute('d', d); p.setAttribute('fill', 'none'); p.setAttribute('stroke', color);
  p.setAttribute('stroke-width', width || 2); p.setAttribute('stroke-linejoin', 'round');
  if (dash) p.setAttribute('stroke-dasharray', dash);
  
  
}
function dots(a, xs, ys, color, name, errs) {
  xs.forEach((x, i) => {
    if (errs) {
      const e = mk(a.svg, 'line');
      e.setAttribute('x1', a.sx(x)); e.setAttribute('x2', a.sx(x));
      e.setAttribute('y1', a.sy(ys[i] - errs[i])); e.setAttribute('y2', a.sy(ys[i] + errs[i]));
      e.setAttribute('stroke', color); e.setAttribute('stroke-width', '1.2'); e.setAttribute('opacity', '0.7');
      
      
    }
    const c = mk(a.svg, 'circle');
    c.setAttribute('cx', a.sx(x)); c.setAttribute('cy', a.sy(ys[i])); c.setAttribute('r', 3.2); c.setAttribute('fill', color);
    
    
  });
}
function legend(svg, x, y, items, size, gap) {
  items.forEach((it, i) => {
    const yy = y + i * gap;
    const l = mk(svg, 'line');
    l.setAttribute('x1', x); l.setAttribute('x2', x + 28); l.setAttribute('y1', yy); l.setAttribute('y2', yy);
    l.setAttribute('stroke', it[1]); l.setAttribute('stroke-width', 2.5);
    
    
    text(svg, x + 33, yy + size * 0.35, it[0], size, 'start', 'legend-entry');
  });
}
const f1 = v => v.toFixed(1);

// ---------- Figure 1 (page 2) ----------
const s2 = document.getElementById('svg-p2');
const aD = axis(s2, 489, 714, 125, 239, [0, 9], [-11.1, -0.5]);
(function () {
  let top = 'M' + aD.sx(f1dZ[0]) + ' ' + aD.T, bot = 'M' + aD.sx(f1dZ[0]) + ' ' + (aD.T + aD.H);
  let cb = '', vb = '';
  f1dZ.forEach((z, i) => { cb += 'L' + aD.sx(z) + ' ' + aD.sy(f1dCB[i]); vb += 'L' + aD.sx(z) + ' ' + aD.sy(f1dVB[i]); });
  const pc = mk(s2, 'path');
  pc.setAttribute('d', top + cb + 'L' + (aD.L + aD.W) + ' ' + aD.T + 'Z'); pc.setAttribute('fill', '#f48a84'); pc.setAttribute('stroke', '#111');
  
  
  const pv = mk(s2, 'path');
  pv.setAttribute('d', bot + vb + 'L' + (aD.L + aD.W) + ' ' + (aD.T + aD.H) + 'Z'); pv.setAttribute('fill', '#7fb0ea'); pv.setAttribute('stroke', '#111');
  
  
  const fl = mk(s2, 'line');
  fl.setAttribute('x1', aD.L); fl.setAttribute('x2', aD.L + aD.W); fl.setAttribute('y1', aD.sy(f1dFermi)); fl.setAttribute('y2', aD.sy(f1dFermi));
  fl.setAttribute('stroke', '#111'); fl.setAttribute('stroke-dasharray', '2 3');
  
  
})();
frame(aD, 'fig1d-frame');
xticks(aD, ticksZ, v => v, 14, 'fig1d-x');
yticks(aD, ticksBand, v => v, 14, 'fig1d-y');
text(s2, 551, 990, 'z-position (nm)', 15, 'middle', 'fig1d-x-title');
text(s2, 458, 830, 'Energy (eV)', 15, 'middle', 'fig1d-y-title', true);
text(s2, 543, 756, 'EConduction', 13, 'start', 'conduction-label');
text(s2, 545, 910, 'EValence', 13, 'start', 'valence-label');
text(s2, 505, 947, 'SiO₂', 13, 'middle', 'sio2-label');
text(s2, 555, 947, 'WS₂', 13, 'middle', 'ws2-label');
text(s2, 593, 947, 'Ga₂O₃', 13, 'middle', 'ga2o3-label');
const aE1 = axis(s2, 676, 714, 201, 121, [1.8, 2.2], [0, 1.2]);
series(aE1, f1eEnergy, f1ePlBare, RED, 'fig1e-pl-as-exf');
series(aE1, f1eEnergy, f1ePlCapped, BLUE, 'fig1e-pl-capped');
frame(aE1, 'fig1e-pl-frame');
xticks(aE1, ticksE18_22, f1, 13, 'fig1e-pl-x', false);
yticks(aE1, ticksInt, f1, 13, 'fig1e-pl-y');
legend(s2, 680, 727, [['as-exf. WS₂', RED], ['WS₂/Ga₂O₃', BLUE]], 13, 19);
text(s2, 644, 774, 'Intensity (arb. u.)', 13, 'middle', 'fig1e-pl-y-title', true);
const aE2 = axis(s2, 676, 835, 201, 118, [1.8, 2.2], [-0.45, 0.09]);
series(aE2, f1eEnergy, f1eRefBare, RED, 'fig1e-refl-as-exf');
series(aE2, f1eEnergy, f1eRefCapped, BLUE, 'fig1e-refl-capped');
frame(aE2, 'fig1e-refl-frame');
xticks(aE2, ticksE18_22, f1, 14, 'fig1e-x');
yticks(aE2, ticksRefl, f1, 13, 'fig1e-refl-y');
text(s2, 644, 892, 'ΔR/RRef', 13, 'middle', 'fig1e-refl-y-title', true);
text(s2, 776, 991, 'Energy (eV)', 15, 'middle', 'fig1e-x-title');

// ---------- Figure 2 (page 3) ----------
const s3 = document.getElementById('svg-p3');
const aB = axis(s3, 321, 499, 145, 188, [1.8, 2.2], [0, 1.23]);
series(aB, f2bEnergy, f2bCapped, BLUE, 'fig2b-capped', {color: '#7fb0ea', op: 0.5, base: 0}, 1.6);
series(aB, f2bEnergy, f2bBare, RED, 'fig2b-as-exf', {color: '#e08080', op: 0.5, base: 0}, 1.6);
frame(aB, 'fig2b-frame'); xticks(aB, ticksE18_22, f1, 13, 'fig2b-x'); yticks(aB, ticksInt, f1, 13, 'fig2b-y');
legend(s3, 326, 510, [['as-exf. WS₂', RED], ['WS₂/Ga₂O₃', BLUE]], 13, 17);
text(s3, 432, 652, 'X', 13, 'middle', 'fig2b-exciton-mark');
text(s3, 393, 723, 'Energy (eV)', 14, 'middle', 'fig2b-x-title');
text(s3, 287, 593, 'Intensity (arb. u.)', 13, 'middle', 'fig2b-y-title', true);
const aC = axis(s3, 526, 499, 146, 188, [1.8, 2.2], [-0.45, 0.17]);
series(aC, f2cEnergy, f2cBare, RED, 'fig2c-as-exf', null, 1.6);
series(aC, f2cEnergy, f2cCapped, BLUE, 'fig2c-capped', null, 1.6);
frame(aC, 'fig2c-frame'); xticks(aC, ticksE18_22, f1, 13, 'fig2c-x'); yticks(aC, ticksRefl, f1, 13, 'fig2c-y');
legend(s3, 531, 510, [['as-exf. WS₂', RED], ['WS₂/Ga₂O₃', BLUE]], 13, 17);
text(s3, 645, 676, 'X', 13, 'middle', 'fig2c-exciton-mark');
text(s3, 599, 723, 'Energy (eV)', 14, 'middle', 'fig2c-x-title');
text(s3, 489, 593, 'ΔR/RRef', 12, 'middle', 'fig2c-y-title', true);
const aDD = axis(s3, 728, 499, 147, 188, [1.8, 2.2], [0, 1.23]);
series(aDD, f2dEnergy, f2dBare, RED, 'fig2d-as-exf', {color: '#e08080', op: 0.5, base: 0}, 1.6);
series(aDD, f2dEnergy, f2dCapped, BLUE, 'fig2d-capped', {color: '#7fb0ea', op: 0.45, base: 0}, 1.6);
frame(aDD, 'fig2d-frame'); xticks(aDD, ticksE18_22, f1, 13, 'fig2d-x'); yticks(aDD, ticksInt, f1, 13, 'fig2d-y');
legend(s3, 733, 510, [['as-exf. WS₂', RED], ['WS₂/Ga₂O₃', BLUE]], 13, 17);
text(s3, 842, 652, 'X', 13, 'middle', 'fig2d-exciton-mark');
text(s3, 802, 723, 'Energy (eV)', 14, 'middle', 'fig2d-x-title');
text(s3, 694, 593, 'Intensity (arb. u.)', 13, 'middle', 'fig2d-y-title', true);
const aEE = axis(s3, 319, 760, 232, 188, [0.8, 283], [0.01, 39], true, true);
series(aEE, f2eDashX, f2eDashCapped, '#111', 'fig2e-dashed-capped', null, 1.2, '5 4');
series(aEE, f2eDashX, f2eDashBare, '#111', 'fig2e-dashed-bare', null, 1.2, '5 4');
series(aEE, f2eLaserCapped, f2eCapped, BLUE, 'fig2e-fit-capped', null, 1.6);
series(aEE, f2eLaserBare, f2eBare, RED, 'fig2e-fit-bare', null, 1.6);
dots(aEE, f2eLaserCapped, f2eCapped, BLUE, 'fig2e-capped');
dots(aEE, f2eLaserBare, f2eBare, RED, 'fig2e-bare');
frame(aEE, 'fig2e-frame');
xticks(aEE, ticksLogX, v => v, 13, 'fig2e-x');
yticks(aEE, ticksLogY, v => v, 13, 'fig2e-y');
legend(s3, 327, 776, [['as-exf. WS₂', RED], ['WS₂/Ga₂O₃', BLUE]], 13, 17);
text(s3, 435, 984, 'Laser intensity (μW/μm²)', 13.5, 'middle', 'fig2e-x-title');
text(s3, 290, 855, 'Exciton intensity (arb. u.)', 13, 'middle', 'fig2e-y-title', true);
(function () {
  const r = mk(s3, 'rect');
  r.setAttribute('x', 454); r.setAttribute('y', 846); r.setAttribute('width', 90); r.setAttribute('height', 66);
  r.setAttribute('fill', '#fff'); r.setAttribute('stroke', '#111');
  
  
  const b = mk(s3, 'path');
  b.setAttribute('d', 'M456 912 L495 912 Q525 905 538 860 L540 875 Q525 912 495 912 Z');
  b.setAttribute('fill', '#7fb0ea'); b.setAttribute('fill-opacity', '0.5');
  
  
  const l = mk(s3, 'path');
  l.setAttribute('d', 'M456 910 L495 909 Q525 902 540 866'); l.setAttribute('fill', 'none'); l.setAttribute('stroke', '#111'); l.setAttribute('stroke-width', '1.2');
  
  
  text(s3, 476, 859, 'Experiment', 8.5, 'start', 'fig2e-inset-legend');
  text(s3, 476, 869, 'Model', 8.5, 'start', 'fig2e-inset-legend');
  text(s3, 500, 942, 'Laser intensity (μW/μm²)', 9, 'middle', 'fig2e-inset-x-title');
})();
const aF = axis(s3, 642, 760, 234, 188, [0.77, 297], [0.545, 1.54], true, false);
const refX = [0.77, 297], refY = [f2fRef, f2fRef];
series(aF, refX, refY, '#111', 'fig2f-reference-k', null, 1.6, '6 4');
series(aF, f2fLaser, f2fCapped, BLUE, 'fig2f-fit-capped', null, 1.6);
series(aF, f2fLaser, f2fBare, RED, 'fig2f-fit-bare', null, 1.6);
dots(aF, f2fLaser, f2fCapped, BLUE, 'fig2f-capped', f2fErr);
dots(aF, f2fLaser, f2fBare, RED, 'fig2f-bare', f2fErr);
frame(aF, 'fig2f-frame');
xticks(aF, ticksLogX, v => v, 13, 'fig2f-x');
yticks(aF, ticksExp, f1, 13, 'fig2f-y');
legend(s3, 655, 778, [['as-exf. WS₂', RED], ['WS₂/Ga₂O₃', BLUE]], 13, 17);
text(s3, 760, 984, 'Laser intensity (μW/μm²)', 13.5, 'middle', 'fig2f-x-title');
text(s3, 605, 855, 'Power law exponent', 13, 'middle', 'fig2f-y-title', true);

// ---------- Figure 3 (page 4) ----------
const s4 = document.getElementById('svg-p4');
const a3B = axis(s4, 523, 399, 169, 201, [1.846, 2.152], [-0.02, 1.19]);
series(a3B, f3bEnergy, f3bBare, '#111', 'fig3b-as-exf', {color: '#bbbbbb', op: 0.6, base: 0}, 1.8);
series(a3B, f3bEnergy, f3bAl, RED, 'fig3b-al2o3-x10', null, 1.6);
frame(a3B, 'fig3b-frame'); xticks(a3B, ticksE19_21, f1, 11, 'fig3b-x'); yticks(a3B, ticksInt, f1, 11, 'fig3b-y');
legend(s4, 528, 410, [['as-exf. WS₂', '#111'], ['WS₂/Al₂O₃', RED]], 11, 15);
text(s4, 610, 593, 'x10', 11, 'middle', 'fig3b-x10-label').setAttribute('fill', RED);
text(s4, 608, 634, 'Energy (eV)', 12, 'middle', 'fig3b-x-title');
text(s4, 492, 500, 'Intensity (Ias-exf.)', 11, 'middle', 'fig3b-y-title', true);
const a3C = axis(s4, 523, 649, 169, 202, [1.851, 2.153], [0, 1.0]);
series(a3C, f3cEnergy, f3cGa, BLUE, 'fig3c-ga2o3-al2o3', {color: '#5f9ee8', op: 0.6, base: 0}, 1.8);
series(a3C, f3cEnergy, f3cHbn, GREEN, 'fig3c-hbn-al2o3', {color: '#9ad040', op: 0.6, base: 0}, 1.8);
frame(a3C, 'fig3c-frame'); xticks(a3C, ticksE19_21, f1, 11, 'fig3c-x'); yticks(a3C, ticksInt, f1, 11, 'fig3c-y');
legend(s4, 528, 660, [['WS₂/Ga₂O₃/Al₂O₃', BLUE], ['WS₂/hBN/Al₂O₃', GREEN]], 11, 15);
text(s4, 608, 886, 'Energy (eV)', 12, 'middle', 'fig3c-x-title');
text(s4, 492, 750, 'Intensity (Ias-exf.)', 11, 'middle', 'fig3c-y-title', true);
</script>
</body></html>
